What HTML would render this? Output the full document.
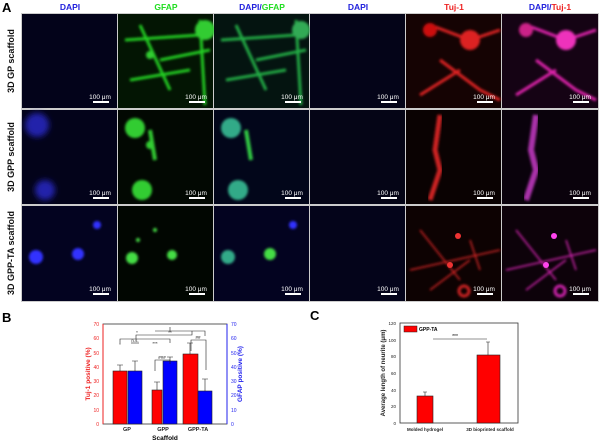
<!DOCTYPE html>
<html><head><meta charset="utf-8"><style>
html,body{margin:0;padding:0;background:#fff;}
svg{display:block;font-family:"Liberation Sans",Arial,sans-serif;}
</style></head><body>
<svg width="600" height="442" viewBox="0 0 600 442" xmlns="http://www.w3.org/2000/svg">
<defs>
<filter id="bl" x="-20%" y="-20%" width="140%" height="140%"><feGaussianBlur stdDeviation="1.2"/></filter>
<filter id="bl2" x="-50%" y="-50%" width="200%" height="200%"><feGaussianBlur stdDeviation="3"/></filter>
</defs>
<text x="2" y="12" font-size="13" font-weight="bold">A</text>
<g font-size="8.5" font-weight="bold" text-anchor="middle">
<text x="70" y="10" fill="#2222dd">DAPI</text>
<text x="166" y="10" fill="#22dd22">GFAP</text>
<text x="262" y="10"><tspan fill="#2222dd">DAPI/</tspan><tspan fill="#22dd22">GFAP</tspan></text>
<text x="358" y="10" fill="#2222dd">DAPI</text>
<text x="454" y="10" fill="#ee2222">Tuj-1</text>
<text x="550" y="10"><tspan fill="#2222dd">DAPI/</tspan><tspan fill="#ee2222">Tuj-1</tspan></text>
</g>
<g font-size="9" font-weight="bold" text-anchor="middle" fill="#111">
<text transform="translate(14,61) rotate(-90)">3D GP scaffold</text>
<text transform="translate(14,157) rotate(-90)">3D GPP scaffold</text>
<text transform="translate(14,253) rotate(-90)">3D GPP-TA scaffold</text>
</g>
<rect x="21" y="13" width="578" height="289" fill="#ccc"/>
<!-- row 1 -->
<rect x="22" y="14" width="95" height="94" fill="#03031a"/>
<rect x="118" y="14" width="95" height="94" fill="#031503"/>
<g filter="url(#bl)" fill="#3c3"><path d="M125 40 L200 35 M160 60 L210 50 M200 20 L205 105 M130 80 L190 70 M140 25 L170 90" stroke="#2c2" stroke-width="3" fill="none"/><circle cx="205" cy="30" r="10"/><circle cx="150" cy="55" r="4"/></g>
<rect x="214" y="14" width="95" height="94" fill="#041410"/>
<g filter="url(#bl)"><path d="M221 40 L296 35 M256 60 L306 50 M296 20 L301 105 M226 80 L286 70 M236 25 L266 90" stroke="#2a4" stroke-width="3" fill="none"/><circle cx="301" cy="30" r="9" fill="#3a5"/></g>
<rect x="310" y="14" width="95" height="94" fill="#040418"/>
<rect x="406" y="14" width="95" height="94" fill="#150303"/>
<g filter="url(#bl)"><path d="M430 25 L470 40 L500 30 M440 60 L480 90 L500 100 M420 95 L460 70" stroke="#d22" stroke-width="3" fill="none"/><circle cx="470" cy="40" r="10" fill="#d22"/><circle cx="430" cy="30" r="7" fill="#c11"/></g>
<rect x="502" y="14" width="96" height="94" fill="#150314"/>
<g filter="url(#bl)"><path d="M526 25 L566 40 L596 30 M536 60 L576 90 L596 100 M516 95 L556 70" stroke="#d2a" stroke-width="3" fill="none"/><circle cx="566" cy="40" r="10" fill="#e3b"/><circle cx="526" cy="30" r="7" fill="#c28"/></g>
<!-- row 2 -->
<rect x="22" y="110" width="95" height="94" fill="#03031a"/>
<g filter="url(#bl2)" fill="#22a"><circle cx="37" cy="125" r="12"/><circle cx="45" cy="190" r="10"/></g>
<rect x="118" y="110" width="95" height="94" fill="#020802"/>
<g filter="url(#bl)" fill="#3c3"><circle cx="135" cy="128" r="10"/><circle cx="150" cy="145" r="4"/><path d="M150 130 L155 160" stroke="#3c3" stroke-width="4"/><circle cx="142" cy="190" r="10"/></g>
<rect x="214" y="110" width="95" height="94" fill="#02061a"/>
<g filter="url(#bl)" fill="#3a8"><circle cx="231" cy="128" r="10"/><path d="M246 130 L251 160" stroke="#3c4" stroke-width="4"/><circle cx="238" cy="190" r="10"/></g>
<rect x="310" y="110" width="95" height="94" fill="#050516"/>
<rect x="406" y="110" width="95" height="94" fill="#0a0202"/>
<g filter="url(#bl)"><path d="M440 115 L435 150 L440 170 L430 200" stroke="#c22" stroke-width="5" fill="none"/></g>
<rect x="502" y="110" width="96" height="94" fill="#0a020c"/>
<g filter="url(#bl)"><path d="M536 115 L531 150 L536 170 L526 200" stroke="#a3a" stroke-width="6" fill="none"/></g>
<!-- row 3 -->
<rect x="22" y="206" width="95" height="95" fill="#030320"/>
<g filter="url(#bl)" fill="#33f"><circle cx="36" cy="257" r="7"/><circle cx="78" cy="254" r="6"/><circle cx="97" cy="225" r="4"/></g>
<rect x="118" y="206" width="95" height="95" fill="#010601"/>
<g filter="url(#bl)" fill="#4d4"><circle cx="132" cy="258" r="6"/><circle cx="172" cy="255" r="5"/><circle cx="155" cy="230" r="2"/><circle cx="138" cy="240" r="2"/></g>
<rect x="214" y="206" width="95" height="95" fill="#030320"/>
<g filter="url(#bl)"><circle cx="228" cy="257" r="7" fill="#3a8"/><circle cx="270" cy="254" r="6" fill="#4d4"/><circle cx="293" cy="225" r="4" fill="#33f"/></g>
<rect x="310" y="206" width="95" height="95" fill="#04041a"/>
<rect x="406" y="206" width="95" height="95" fill="#0d0202"/>
<g filter="url(#bl)" stroke="#c22" fill="none" stroke-width="1.5"><path d="M420 230 L460 280 M470 240 L480 270 M410 270 L500 250 M430 290 L470 260"/><circle cx="464" cy="291" r="5" stroke-width="3"/></g>
<g fill="#e33"><circle cx="458" cy="236" r="3"/><circle cx="450" cy="265" r="3"/></g>
<rect x="502" y="206" width="96" height="95" fill="#0d020a"/>
<g filter="url(#bl)" stroke="#c2a" fill="none" stroke-width="1.5"><path d="M516 230 L556 280 M566 240 L576 270 M506 270 L596 250 M526 290 L566 260"/><circle cx="560" cy="291" r="5" stroke-width="3"/></g>
<g fill="#f4e"><circle cx="554" cy="236" r="3"/><circle cx="546" cy="265" r="3"/></g>
<!-- scale bars -->
<g fill="#fff" font-size="6.5" text-anchor="middle">
<g id="sb"><text x="100" y="99">100 μm</text><rect x="93" y="101" width="16" height="2"/></g>
<use href="#sb" x="96"/><use href="#sb" x="192"/><use href="#sb" x="288"/><use href="#sb" x="384"/><use href="#sb" x="480"/>
<use href="#sb" y="96"/><use href="#sb" x="96" y="96"/><use href="#sb" x="192" y="96"/><use href="#sb" x="288" y="96"/><use href="#sb" x="384" y="96"/><use href="#sb" x="480" y="96"/>
<use href="#sb" y="192"/><use href="#sb" x="96" y="192"/><use href="#sb" x="192" y="192"/><use href="#sb" x="288" y="192"/><use href="#sb" x="384" y="192"/><use href="#sb" x="480" y="192"/>
</g>

<!-- B -->
<text x="2" y="322" font-size="13" font-weight="bold">B</text>
<g stroke="#333" stroke-width="0.8" fill="none"><rect x="103" y="324" width="124" height="100"/></g>
<line x1="103" y1="324" x2="103" y2="424" stroke="#e22" stroke-width="1"/>
<line x1="227" y1="324" x2="227" y2="424" stroke="#22e" stroke-width="1"/>
<g font-size="5" text-anchor="end" fill="#e22">
<text x="99" y="426">0</text><text x="99" y="412">10</text><text x="99" y="397">20</text><text x="99" y="383">30</text><text x="99" y="369">40</text><text x="99" y="355">50</text><text x="99" y="340">60</text><text x="99" y="326">70</text></g>
<g font-size="5" fill="#22e">
<text x="231" y="426">0</text><text x="231" y="412">10</text><text x="231" y="397">20</text><text x="231" y="383">30</text><text x="231" y="369">40</text><text x="231" y="355">50</text><text x="231" y="340">60</text><text x="231" y="326">70</text></g>
<text transform="translate(90,374) rotate(-90)" font-size="6.5" font-weight="bold" fill="#e22" text-anchor="middle">Tuj-1 positive (%)</text>
<text transform="translate(242,374) rotate(-90)" font-size="6.5" font-weight="bold" fill="#22e" text-anchor="middle">GFAP positive (%)</text>
<g stroke="#222" stroke-width="0.6">
<rect x="113" y="371" width="14" height="53" fill="#f00"/><rect x="128" y="371" width="14" height="53" fill="#00f"/>
<rect x="152" y="390" width="10" height="34" fill="#f00"/><rect x="163" y="361" width="14" height="63" fill="#00f"/>
<rect x="183" y="354" width="15" height="70" fill="#f00"/><rect x="198" y="391" width="14" height="33" fill="#00f"/>
</g>
<g stroke="#222" stroke-width="0.6" fill="none">
<path d="M120 371V365M117 365h6M135 371V361M132 361h6M157 390V382M154 382h6M170 361V357M167 357h6M190 354V343M187 343h6M205 391V379M202 379h6"/>
<path d="M131 343h8"/><path d="M155 371V360h15v4"/><path d="M191 351V340h15v30"/>
<path d="M120 343v-4h50v4M136 339v-4h56v-4 M155 331h50v5 M170 331v-4"/>
</g>
<g font-size="4.5" fill="#222" text-anchor="middle">
<text x="135" y="342">n.s.</text><text x="162" y="359">###</text><text x="198" y="339">##</text>
<text x="120" y="346">*</text><text x="155" y="345">***</text><text x="137" y="334">*</text><text x="170" y="334">**</text></g>
<g font-size="5.5" font-weight="bold" text-anchor="middle" fill="#222">
<text x="127" y="431">GP</text><text x="163" y="431">GPP</text><text x="198" y="431">GPP-TA</text></g>
<text x="165" y="440" font-size="6.5" font-weight="bold" text-anchor="middle">Scaffold</text>

<!-- C -->
<text x="310" y="320" font-size="13" font-weight="bold">C</text>
<rect x="400" y="323" width="118" height="100" fill="none" stroke="#333" stroke-width="0.8"/>
<g font-size="4.5" text-anchor="end" fill="#222">
<text x="396" y="425">0</text><text x="396" y="408">20</text><text x="396" y="392">40</text><text x="396" y="375">60</text><text x="396" y="358">80</text><text x="396" y="342">100</text><text x="396" y="325">120</text></g>
<text transform="translate(385,373) rotate(-90)" font-size="6" font-weight="bold" text-anchor="middle" fill="#222">Average length of neurite (μm)</text>
<g stroke="#222" stroke-width="0.6">
<rect x="417" y="396" width="16" height="27" fill="#f00"/>
<rect x="477" y="355" width="23" height="68" fill="#f00"/>
<path d="M425 396v-4M423 392h4M488 355v-13M486 342h4"/>
<path d="M433 339h54"/>
</g>
<text x="455" y="338" font-size="5" text-anchor="middle">***</text>
<rect x="404" y="326" width="13" height="6" fill="#f00" stroke="#222" stroke-width="0.5"/>
<text x="419" y="331" font-size="5" font-weight="bold">GPP-TA</text>
<g font-size="4.5" font-weight="bold" text-anchor="middle" fill="#222">
<text x="425" y="431">Molded hydrogel</text><text x="490" y="431">3D bioprinted scaffold</text></g>
</svg>
</body></html>
